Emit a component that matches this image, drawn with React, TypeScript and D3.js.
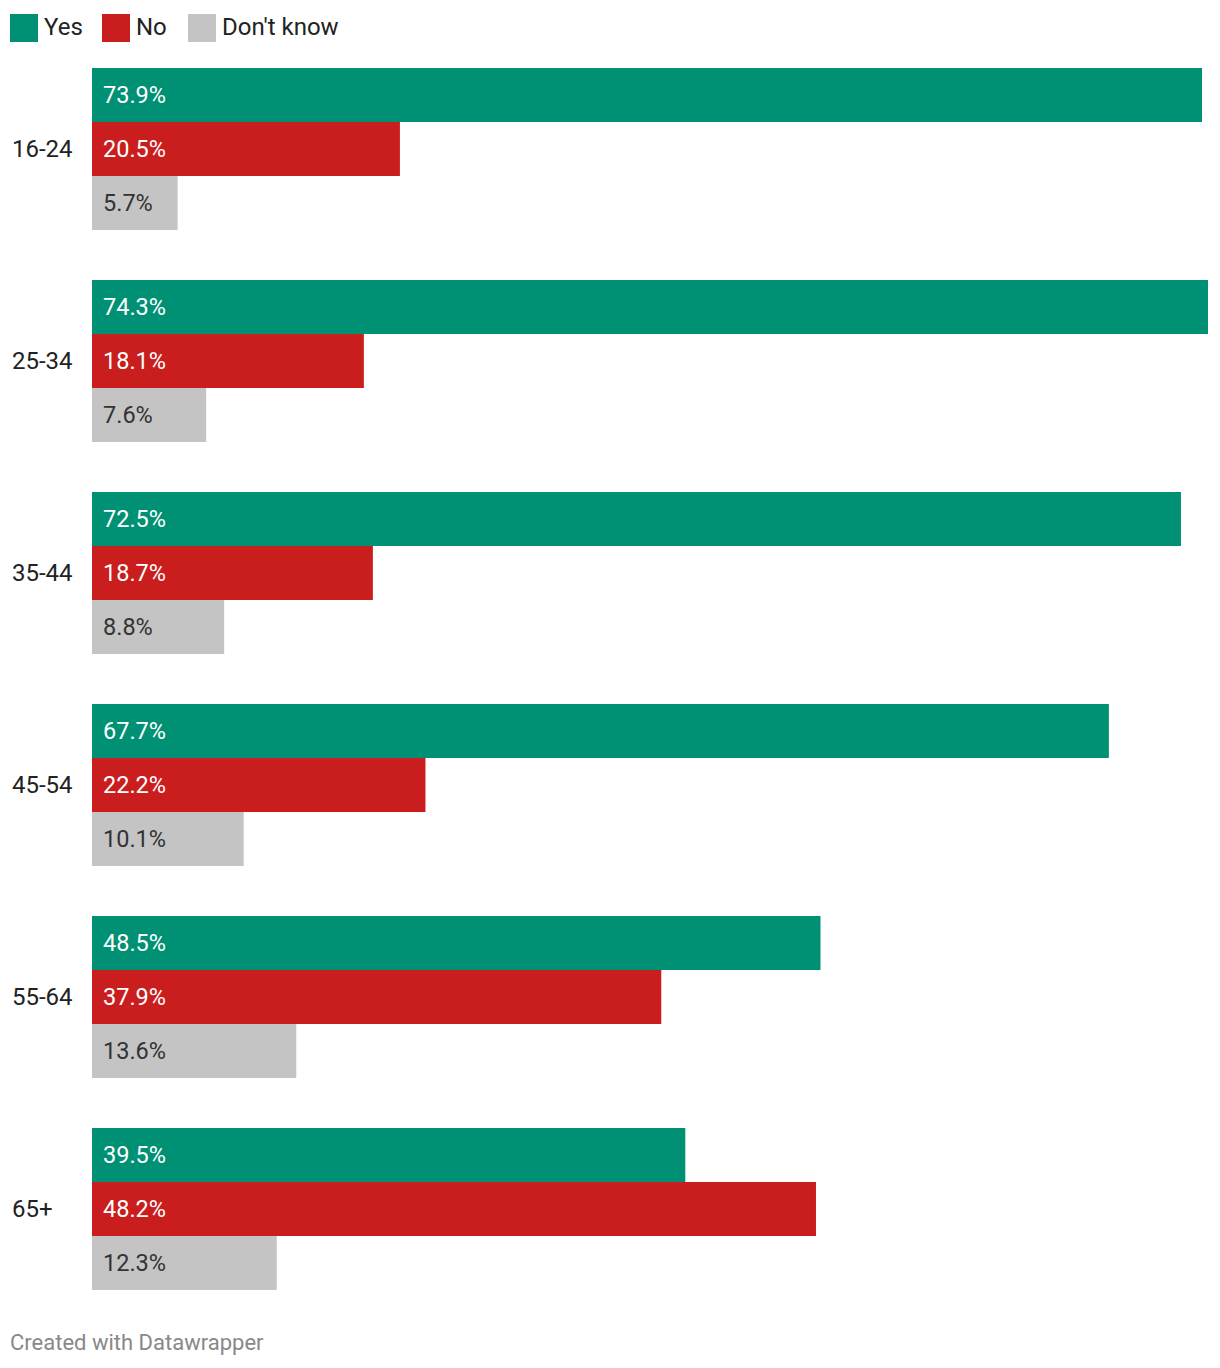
import React, {useEffect, useRef} from 'react';
import * as d3 from 'd3';

const ageGroups = ['16-24', '25-34', '35-44', '45-54', '55-64', '65+'];
const answers = ['Yes', 'No', "Don't know"];
const yesValues = [73.9, 74.3, 72.5, 67.7, 48.5, 39.5];
const noValues = [20.5, 18.1, 18.7, 22.2, 37.9, 48.2];
const dontKnowValues = [5.7, 7.6, 8.8, 10.1, 13.6, 12.3];
const colors = ['#009175', '#c91d1e', '#c4c4c4'];
const labelColors = ['#ffffff', '#ffffff', '#333333'];

export default function App() {
    const svgRef = useRef<SVGSVGElement>(null);

    useEffect(() => {
        const width = 1220;
        const height = 1368;
        const font = 'Roboto, sans-serif';
        const svg = d3.select(svgRef.current)
            .attr('width', width)
            .attr('height', height);
        svg.selectAll('*').remove();

        const series = [yesValues, noValues, dontKnowValues];
        const rows = ageGroups.map((g, i) => ({group: g, values: series.map(s => s[i])}));

        const x = d3.scaleLinear().domain([0, 74.3]).range([92, 1208]);
        const y = d3.scaleBand().domain(ageGroups).range([68, 1290]).paddingInner(50 / 212).paddingOuter(0);
        const ySub = d3.scaleBand().domain(answers).range([0, y.bandwidth()]);

        // legend
        const legendX = [10, 102, 188];
        const legend = svg.append('g').selectAll('g')
            .data(answers)
            .enter()
            .append('g')
            .attr('transform', (d, i) => `translate(${legendX[i]},14)`);
        legend.append('rect')
            .attr('width', 28)
            .attr('height', 28)
            .attr('fill', (d, i) => colors[i]);
        legend.append('text')
            .attr('x', 34)
            .attr('y', 13)
            .attr('dy', '0.35em')
            .attr('font-family', font)
            .attr('font-size', 24)
            .attr('fill', '#222')
            .text(d => d);

        const groups = svg.selectAll('.age-group')
            .data(rows)
            .enter()
            .append('g')
            .attr('class', 'age-group')
            .attr('transform', d => `translate(0,${y(d.group)})`);

        groups.append('text')
            .attr('x', 12)
            .attr('y', y.bandwidth() / 2)
            .attr('dy', '0.35em')
            .attr('font-family', font)
            .attr('font-size', 24)
            .attr('fill', '#222')
            .text(d => d.group);

        groups.each(function (row) {
            const g = d3.select(this);
            const bars = g.selectAll('.bar')
                .data(row.values.map((v, i) => ({answer: answers[i], value: v, i})))
                .enter()
                .append('g')
                .attr('class', 'bar');
            bars.append('rect')
                .attr('x', x(0))
                .attr('y', d => ySub(d.answer))
                .attr('width', d => x(d.value) - x(0))
                .attr('height', ySub.bandwidth())
                .attr('fill', d => colors[d.i]);
            bars.append('text')
                .attr('x', x(0) + 11)
                .attr('y', d => ySub(d.answer) + ySub.bandwidth() / 2)
                .attr('dy', '0.35em')
                .attr('font-family', font)
                .attr('font-size', 23.5)
                .attr('fill', d => labelColors[d.i])
                .text(d => `${d.value.toFixed(1)}%`);
        });

        svg.append('text')
            .attr('x', 10)
            .attr('y', 1342)
            .attr('dy', '0.35em')
            .attr('font-family', font)
            .attr('font-size', 22)
            .attr('fill', '#888')
            .text('Created with Datawrapper');
    }, []);

    return (
        <svg ref={svgRef} style={{position: 'absolute', left: 0, top: 0, background: '#fff'}}/>
    );
}
